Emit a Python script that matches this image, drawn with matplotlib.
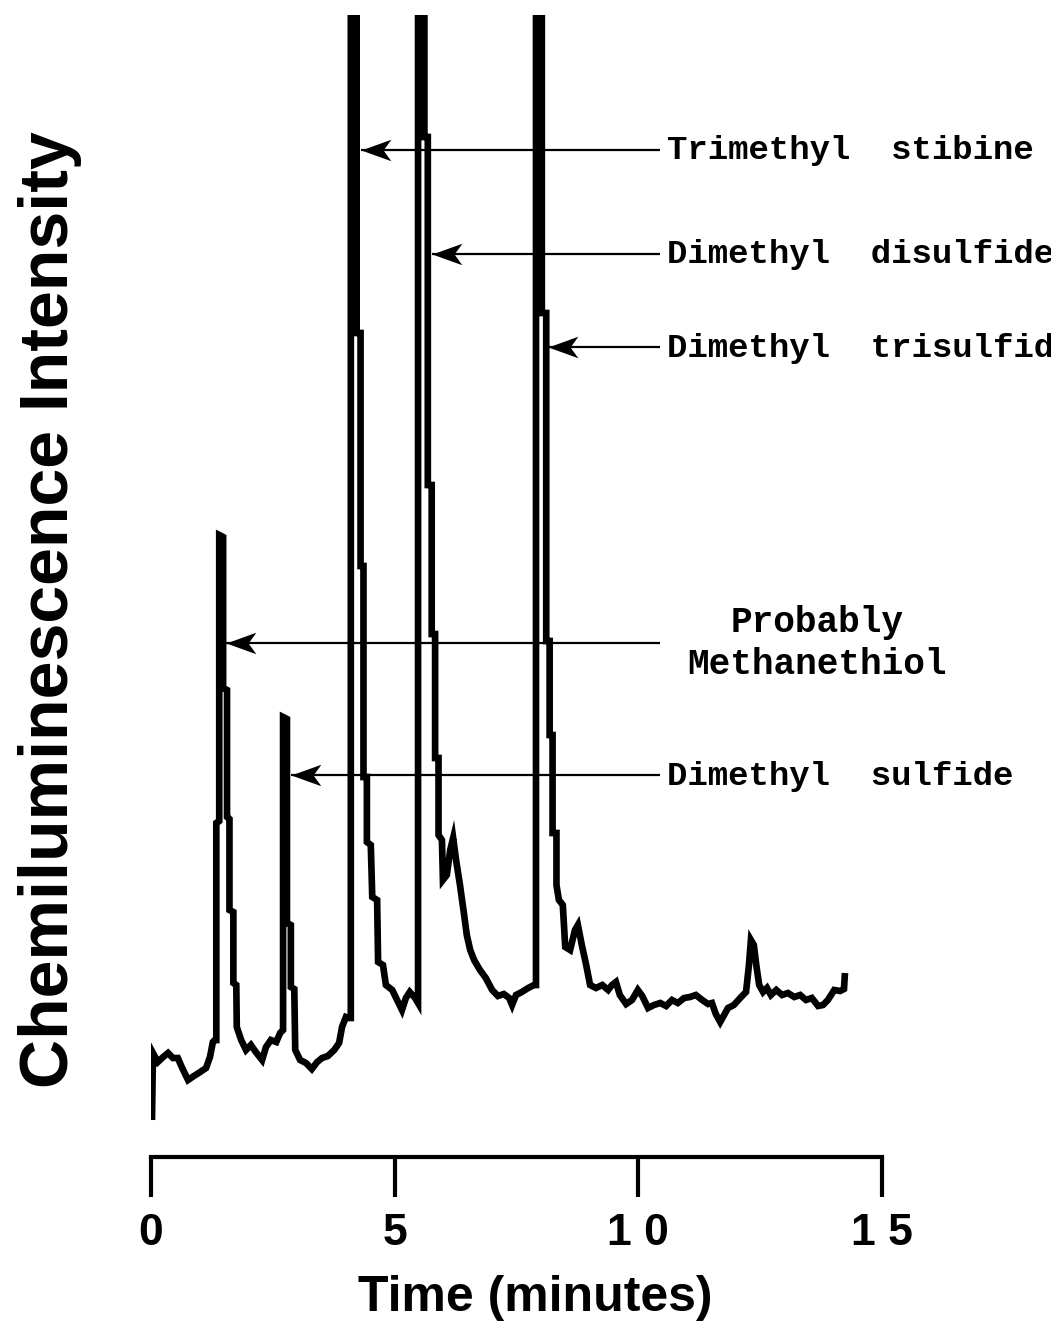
import matplotlib
matplotlib.use("Agg")
import matplotlib.pyplot as plt
from matplotlib.path import Path

# chromatogram trace: time (min), detector signal (a.u.)
# the three big peaks saturate the detector (values above the top of the axis)
time_min = [
    0.02, 0.04, 0.14, 0.25, 0.35, 0.45, 0.55, 0.64, 0.76, 0.88, 1.01, 1.13, 1.21, 1.27, 1.31,
    1.34, 1.34, 1.40, 1.40, 1.48, 1.48, 1.56, 1.56, 1.61, 1.61, 1.69, 1.69, 1.75, 1.76, 1.85,
    1.95, 2.05, 2.15, 2.28, 2.36, 2.46, 2.57, 2.65,
    2.71, 2.71, 2.79, 2.79, 2.87, 2.87, 2.94, 2.96, 3.06, 3.18, 3.30, 3.41, 3.51, 3.63, 3.76,
    3.86, 3.92, 4.00, 4.06,
    4.10, 4.10, 4.22, 4.22, 4.30, 4.30, 4.36, 4.36, 4.43, 4.43, 4.51, 4.54, 4.64, 4.66, 4.76,
    4.82, 4.95, 5.05, 5.15, 5.23, 5.31, 5.42, 5.48,
    5.48, 5.61, 5.61, 5.68, 5.68, 5.76, 5.76, 5.83, 5.83, 5.90, 5.90, 5.97, 5.99, 6.07,
    6.14, 6.20, 6.26, 6.34, 6.42, 6.48, 6.55, 6.63, 6.75, 6.87, 7.00, 7.12, 7.24, 7.35, 7.41,
    7.49, 7.61, 7.74, 7.86,
    7.90, 7.90, 8.02, 8.02, 8.11, 8.11, 8.18, 8.18, 8.24, 8.24, 8.32, 8.32, 8.37, 8.45,
    8.50, 8.60, 8.70, 8.76, 8.84, 8.93, 9.01, 9.13, 9.26, 9.38, 9.46, 9.54, 9.62, 9.75, 9.87,
    9.99, 10.08, 10.20, 10.32, 10.45, 10.57, 10.69, 10.81, 10.94, 11.06, 11.18, 11.31, 11.43,
    11.51, 11.59, 11.68, 11.76, 11.84, 11.96, 12.09, 12.21, 12.27, 12.31, 12.37, 12.42, 12.48,
    12.56, 12.64, 12.72, 12.83, 12.95, 13.07, 13.20, 13.32, 13.44, 13.56, 13.69, 13.79, 13.89,
    14.02, 14.14, 14.22, 14.24,
]
intensity = [
    3.7, 10.4, 9.5, 10.0, 10.4, 9.9, 9.9, 8.9, 7.7, 8.1, 8.5, 8.9, 10.0, 11.5, 11.7,
    11.7, 33.4, 33.6, 62.2, 62.0, 46.9, 46.7, 34.0, 33.8, 24.7, 24.5, 17.4, 17.2, 13.0, 11.7,
    10.7, 11.2, 10.5, 9.7, 11.0, 11.7, 11.5, 12.4,
    12.7, 44.0, 43.8, 23.4, 23.2, 17.0, 16.8, 10.7, 9.7, 9.4, 8.8, 9.5, 9.9, 10.1, 10.7,
    11.4, 13.0, 14.0, 13.9,
    13.9, 140.0, 140.0, 82.4, 82.4, 59.1, 59.1, 38.0, 38.0, 31.5, 31.2, 26.0, 25.7, 19.5, 19.2,
    17.2, 16.7, 15.7, 14.7, 15.9, 16.5, 15.9, 15.4,
    140.0, 140.0, 102.0, 102.0, 67.2, 67.2, 52.3, 52.3, 39.9, 39.9, 32.2, 31.7, 27.7, 28.2,
    30.7, 31.9, 29.7, 27.2, 24.4, 22.2, 20.7, 19.7, 18.7, 17.9, 16.7, 16.1, 16.3, 15.9, 15.2,
    16.2, 16.5, 16.9, 17.2,
    17.2, 140.0, 140.0, 84.4, 84.4, 51.6, 51.6, 42.2, 42.2, 32.4, 32.4, 27.2, 25.7, 25.2,
    21.0, 20.7, 22.7, 23.2, 21.2, 19.2, 17.2, 16.9, 17.2, 16.7, 17.2, 17.5, 16.2, 15.3, 15.7,
    16.7, 16.1, 14.9, 15.2, 15.4, 15.1, 15.7, 15.4, 15.9, 16.0, 16.2, 15.7, 15.3,
    15.4, 14.3, 13.5, 14.2, 14.9, 15.2, 15.9, 16.5, 19.2, 21.7, 21.2, 19.2, 17.2,
    16.5, 16.9, 16.2, 16.7, 16.2, 16.4, 16.0, 16.2, 15.7, 15.9, 15.1, 15.2, 15.7,
    16.7, 16.6, 16.8, 18.4,
]

x_ticks = [0, 5, 10, 15]
x_tick_labels = ["0", "5", "1 0", "1 5"]

# peak labels: name, arrow height, time of the arrow tip
peak_names = ["Trimethyl  stibine", "Dimethyl  disulfide", "Dimethyl  trisulfide",
              "Dimethyl  sulfide"]
peak_label_y = [100.7, 90.3, 81.0, 38.2]
peak_tip_t = [4.31, 5.77, 8.15, 2.87]
methanethiol_y = 51.4
methanethiol_tip_t = 1.54

ARROW_TAIL_T = 10.45
TEXT_T = 10.59

fig = plt.figure(figsize=(10.51, 13.25), dpi=100)
ax = fig.add_axes([151 / 1051, 168 / 1325, 731 / 1051, 1142 / 1325])

ax.plot(time_min, intensity, color="black", lw=4.8,
        solid_joinstyle="miter", solid_capstyle="butt")

ax.set_xlim(0, 15)
ax.set_ylim(0, 114.2)

for side in ["left", "top", "right"]:
    ax.spines[side].set_visible(False)
ax.spines["bottom"].set_linewidth(3)
ax.spines["bottom"].set_capstyle("projecting")
ax.set_yticks([])
ax.set_xticks(x_ticks)
ax.set_xticklabels(x_tick_labels, fontfamily="Liberation Sans", fontweight="bold", fontsize=32)
ax.tick_params(axis="x", direction="out", length=29, width=3, pad=11)

# notched arrow head, tip at the origin pointing left
head = Path([(0, 0), (1, 0.36), (0.74, 0), (1, -0.36), (0, 0)],
            [Path.MOVETO, Path.LINETO, Path.LINETO, Path.LINETO, Path.CLOSEPOLY])


def draw_arrow(tip_t, y):
    ax.plot([tip_t, ARROW_TAIL_T], [y, y], color="black", lw=1.6, solid_capstyle="butt")
    ax.plot([tip_t], [y], marker=head, markersize=43, color="black", markeredgewidth=0)


mono = dict(fontfamily="Liberation Mono", fontweight="bold", color="black")

for name, y, tip in zip(peak_names, peak_label_y, peak_tip_t):
    draw_arrow(tip, y)
    ax.text(TEXT_T, y - 0.95, name, ha="left", va="baseline", clip_on=False,
            fontsize=24.5, **mono)

draw_arrow(methanethiol_tip_t, methanethiol_y)
ax.text(13.67, 52.5, "Probably", ha="center", va="baseline", clip_on=False,
        fontsize=26, **mono)
ax.text(13.67, 48.3, "Methanethiol", ha="center", va="baseline", clip_on=False,
        fontsize=26, **mono)

fig.text(535 / 1051, 1 - 1298 / 1325, "Time (minutes)", ha="center", va="center",
         fontfamily="Liberation Sans", fontweight="bold", fontsize=36)
fig.text(50 / 1051, 1 - 610 / 1325, "Chemiluminescence Intensity", rotation=90,
         ha="center", va="center", fontfamily="Liberation Sans", fontweight="bold",
         fontsize=49)

fig.savefig("out.png", dpi=100)
